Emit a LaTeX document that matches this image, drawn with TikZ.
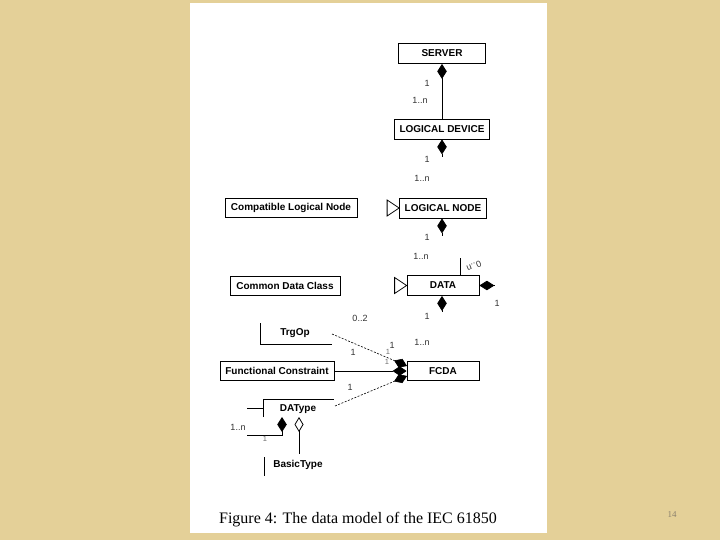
\documentclass[tikz,border=0pt]{standalone}
\usepackage{fontspec}
\setmainfont{Liberation Serif}
\newfontfamily\arialf{Liberation Sans}
\usetikzlibrary{arrows.meta}
\definecolor{bgbeige}{RGB}{228,208,152}
\definecolor{lblgray}{RGB}{50,50,50}
\definecolor{pgnum}{RGB}{140,130,110}
\begin{document}
\begin{tikzpicture}[x=1pt,y=-1pt,
  umlbox/.style={draw, line width=0.8pt, inner sep=0pt, font=\arialf\bfseries\fontsize{10}{12}\selectfont, text=black},
  lbltext/.style={inner sep=0pt, font=\arialf\bfseries\fontsize{10}{12}\selectfont},
  mult/.style={inner sep=0pt, font=\arialf\fontsize{9}{11}\selectfont, text=lblgray},
  smallmult/.style={inner sep=0pt, font=\arialf\fontsize{7.5}{9}\selectfont, text=lblgray!70},
  compstart/.style={{Diamond[length=15pt,width=9.5pt]}-},
  compend/.style={-{Diamond[length=14pt,width=9.5pt]}},
  aggrstart/.style={{Diamond[open,length=15pt,width=9pt,fill=white]}-},
  conn/.style={line width=0.8pt},
  dashconn/.style={line width=0.6pt, dash pattern=on 2pt off 1.5pt},
  genhead/.style={draw, line width=0.8pt, fill=white}
]
\useasboundingbox (0,0) rectangle (720,540);
\fill[bgbeige] (0,0) rectangle (720,540);
\fill[white] (190,3) rectangle (547,533);

% classes
\node[umlbox, minimum width=87pt, minimum height=20pt] (server) at (442,53.5) {SERVER};
\node[umlbox, minimum width=95pt, minimum height=20pt] (ld) at (442,129) {LOGICAL DEVICE};
\node[umlbox, minimum width=87pt, minimum height=20pt] (ln) at (443,208) {LOGICAL NODE};
\node[umlbox, minimum width=132pt, minimum height=19pt] (cln) at (291,208) {Compatible Logical Node};
\node[umlbox, minimum width=72pt, minimum height=20pt] (data) at (443,285.5) {DATA};
\node[umlbox, minimum width=110pt, minimum height=19pt] (cdc) at (285,286) {Common Data Class};
\node[umlbox, minimum width=72pt, minimum height=19pt] (fcda) at (443,371) {FCDA};
\node[umlbox, minimum width=114pt, minimum height=19pt] (fc) at (277,371) {Functional Constraint};
\node[lbltext] (trgop) at (295,333) {TrgOp};
\node[lbltext] (datype) at (298,409) {DAType};
\node[lbltext] (basic) at (298,465) {BasicType};

% compositions
\draw[conn, compstart] (server.south) -- (ld.north);
\coordinate (lds) at (442,157);
\draw[conn, compstart] (ld.south) -- (lds);
\coordinate (lns) at (442,236);
\draw[conn, compstart] (ln.south -| lns) -- (lns);
\coordinate (dbs) at (442,312);
\draw[conn, compstart] (data.south -| dbs) -- (dbs);
\coordinate (drs) at (494,285.5);
\draw[conn, compstart] (data.east) -- (drs);
\coordinate (dts) at (460,258);
\draw[conn] (data.north -| dts) -- (dts);

% generalisation heads
\draw[genhead] (ln.west) -- ++(-12,-8) -- ++(0,16) -- cycle;
\draw[genhead] (data.west) -- ++(-12,-8) -- ++(0,16) -- cycle;

% partial class outlines
\draw[conn] (260,323) -- (260,344) -- (332,344);
\draw[conn] (247,408) -- (263,408);
\draw[conn] (263,417) -- (263,399) -- (334,399);
\draw[conn] (264,457) -- (264,476);

% links to FCDA
\coordinate (trgend) at (332,334);
\coordinate (fa) at (407,366);
\coordinate (fcc) at (407,376);
\coordinate (dtend) at (335,406);
\draw[dashconn, compend] (trgend) -- (fa);
\draw[conn, compend] (fc.east) -- (fcda.west);
\draw[dashconn, compend] (dtend) -- (fcc);

% DAType self composition and BasicType aggregation
\coordinate (dtd) at (282,417);
\coordinate (dtl) at (247,435);
\draw[conn, compstart] (dtd) -- (dtd |- dtl) -- (dtl);
\coordinate (dth) at (299,417);
\coordinate (bt) at (299,454);
\draw[conn, aggrstart] (dth) -- (bt);

% multiplicities
\node[mult] (m1) at (427,83) {1};
\node[mult] (m2) at (420,100) {1..n};
\node[mult] (m3) at (427,159) {1};
\node[mult] (m4) at (422,178) {1..n};
\node[mult] (m5) at (427,237) {1};
\node[mult] (m6) at (421,256) {1..n};
\node[mult, rotate=202] (m7) at (474,266) {0..n};
\node[mult] (m8) at (497,303) {1};
\node[mult] (m9) at (427,316) {1};
\node[mult] (m10) at (422,342) {1..n};
\node[mult] (m11) at (360,318) {0..2};
\node[mult] (m12) at (353,352) {1};
\node[mult] (m13) at (392,345) {1};
\node[smallmult] (m14) at (388,352) {1};
\node[smallmult] (m15) at (387,362) {1};
\node[mult] (m16) at (350,387) {1};
\node[mult] (m17) at (238,427) {1..n};
\node[smallmult] (m18) at (265,439) {1};

% caption and page number
\node[inner sep=0pt, font=\fontsize{16}{19}\selectfont] (cap) at (358,520) {Figure 4: The data model of the IEC 61850};
\node[inner sep=0pt, font=\fontsize{9}{11}\selectfont, text=pgnum] (pg) at (672,515) {14};
\end{tikzpicture}
\end{document}
